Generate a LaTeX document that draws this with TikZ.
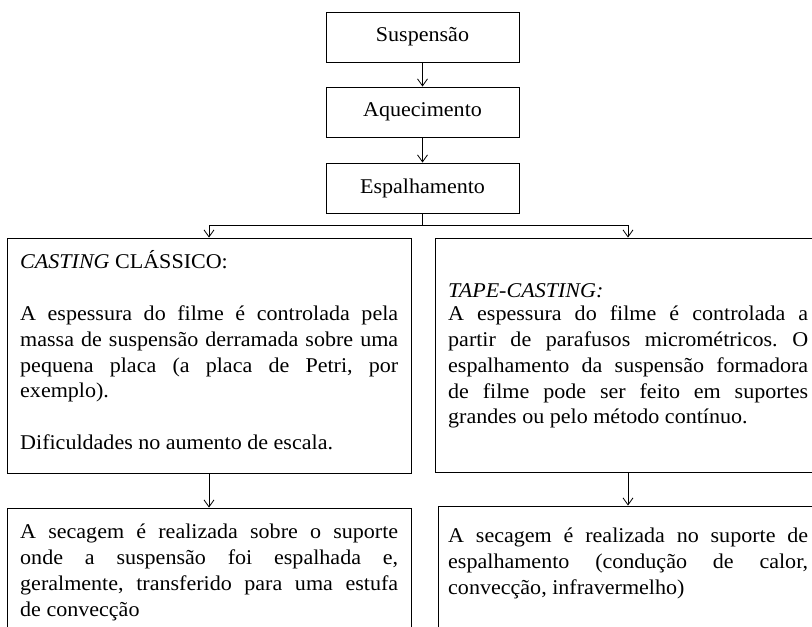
\documentclass[tikz,border=0pt]{standalone}
\usepackage{fontspec}
\setmainfont[FakeStretch=1.05]{Liberation Serif}
\usetikzlibrary{arrows.meta}
\frenchspacing
\newcommand{\jln}[2]{\hbox to #1pt{#2}}
\begin{document}
\begin{tikzpicture}[x=1pt,y=-1pt,
  box/.style={draw, line width=0.9pt, inner sep=0pt},
  topbox/.style={box, minimum width=193pt, minimum height=50pt, font=\fontsize{21}{26}\selectfont},
  arr/.style={-{Straight Barb[length=7pt,width=10pt]}, line width=0.8pt},
  txt/.style={inner sep=0pt, anchor=base west, font=\fontsize{21}{26}\selectfont}]
\useasboundingbox (0,0) rectangle (812,627);
\clip (0,0) rectangle (812,627);
\fill[white] (0,0) rectangle (812,627);
% top chain
\node[topbox] (s) at (422.5,37) {Suspensão};
\node[topbox] (a) at (422.5,112) {Aquecimento};
\node[topbox] (e) at (422.5,188) {Espalhamento};
\draw[arr] (s) -- (a);
\draw[arr] (a) -- (e);
% big boxes
\node[box, minimum width=404pt, minimum height=235pt] (L1) at (209,355.5) {};
\node[box, minimum width=386pt, minimum height=234pt] (R1) at (628,355) {};
\node[box, minimum width=404pt, minimum height=160pt] (L2) at (209,588) {};
\node[box, minimum width=382pt, minimum height=160pt] (R2) at (629,586) {};
% split
\coordinate (j) at (422.5,225);
\draw[line width=0.8pt] (e.south) -- (j);
\draw[line width=0.8pt] (j -| L1.north) -- (j -| R1.north);
\draw[arr] (j -| L1.north) -- (L1.north);
\draw[arr] (j -| R1.north) -- (R1.north);
\draw[arr] (L1.south) -- (L1.south |- L2.north);
\draw[arr] (R1.south) -- (R1.south |- R2.north);
% left upper text
\node[txt] (l1) at (20,268) {\textit{CASTING} CLÁSSICO:};
\node[txt] (l2) at (20,320) {\jln{378}{A espessura do filme é controlada pela}};
\node[txt] (l3) at (20,346) {\jln{378}{massa de suspensão derramada sobre uma}};
\node[txt] (l4) at (20,372) {\jln{378}{pequena placa (a placa de Petri, por}};
\node[txt] (l5) at (20,397) {exemplo).};
\node[txt] (l6) at (20,449) {Dificuldades no aumento de escala.};
% right upper text
\node[txt] (r1) at (448,297) {\textit{TAPE-CASTING:}};
\node[txt] (r2) at (448,320) {\jln{360}{A espessura do filme é controlada a}};
\node[txt] (r3) at (448,346) {\jln{360}{partir de parafusos micrométricos. O}};
\node[txt] (r4) at (448,372) {\jln{360}{espalhamento da suspensão formadora}};
\node[txt] (r5) at (448,398) {\jln{360}{de filme pode ser feito em suportes}};
\node[txt] (r6) at (448,423) {grandes ou pelo método contínuo.};
% left lower text
\node[txt] (b1) at (20,538) {\jln{378}{A secagem é realizada sobre o suporte}};
\node[txt] (b2) at (20,564) {\jln{378}{onde a suspensão foi espalhada e,}};
\node[txt] (b3) at (20,590) {\jln{378}{geralmente, transferido para uma estufa}};
\node[txt] (b4) at (20,616) {de convecção};
% right lower text
\node[txt] (c1) at (448,542) {\jln{360}{A secagem é realizada no suporte de}};
\node[txt] (c2) at (448,568) {\jln{360}{espalhamento (condução de calor,}};
\node[txt] (c3) at (448,594) {convecção, infravermelho)};
\end{tikzpicture}
\end{document}
